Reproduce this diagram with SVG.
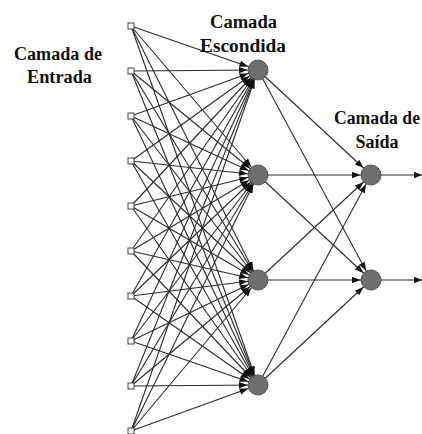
<svg xmlns="http://www.w3.org/2000/svg" width="422" height="434" viewBox="0 0 422 434">
<style>
.lbl{font-family:"Liberation Serif","DejaVu Serif",serif;font-weight:bold;font-size:18px;fill:#111;}
.c{stroke:#2a2a2a;stroke-width:1.1;fill:none;}
.in{fill:#fff;stroke:#444;stroke-width:1;}
.nd{fill:#6e6e6e;stroke:#555;stroke-width:1;}
</style>
<defs>
<marker id="ah" markerUnits="userSpaceOnUse" orient="auto" refX="0" refY="0" markerWidth="40" markerHeight="40" overflow="visible"><path d="M-10.5,0 L-19,-3.2 L-19,3.2 z" fill="#111"/></marker>
<marker id="ah0" markerUnits="userSpaceOnUse" orient="auto" refX="0" refY="0" markerWidth="20" markerHeight="20" overflow="visible"><path d="M0,0 L-8,-3.2 L-8,3.2 z" fill="#111"/></marker>
</defs>
<rect width="422" height="434" fill="#fff"/>
<g id="connectors" class="c" marker-end="url(#ah)">
<line x1="131" y1="26" x2="258" y2="70"/><line x1="131" y1="26" x2="258" y2="175"/><line x1="131" y1="26" x2="258" y2="280"/><line x1="131" y1="26" x2="258" y2="385"/>
<line x1="131" y1="71" x2="258" y2="70"/><line x1="131" y1="71" x2="258" y2="175"/><line x1="131" y1="71" x2="258" y2="280"/><line x1="131" y1="71" x2="258" y2="385"/>
<line x1="131" y1="116" x2="258" y2="70"/><line x1="131" y1="116" x2="258" y2="175"/><line x1="131" y1="116" x2="258" y2="280"/><line x1="131" y1="116" x2="258" y2="385"/>
<line x1="131" y1="161" x2="258" y2="70"/><line x1="131" y1="161" x2="258" y2="175"/><line x1="131" y1="161" x2="258" y2="280"/><line x1="131" y1="161" x2="258" y2="385"/>
<line x1="131" y1="206" x2="258" y2="70"/><line x1="131" y1="206" x2="258" y2="175"/><line x1="131" y1="206" x2="258" y2="280"/><line x1="131" y1="206" x2="258" y2="385"/>
<line x1="131" y1="251" x2="258" y2="70"/><line x1="131" y1="251" x2="258" y2="175"/><line x1="131" y1="251" x2="258" y2="280"/><line x1="131" y1="251" x2="258" y2="385"/>
<line x1="131" y1="296" x2="258" y2="70"/><line x1="131" y1="296" x2="258" y2="175"/><line x1="131" y1="296" x2="258" y2="280"/><line x1="131" y1="296" x2="258" y2="385"/>
<line x1="131" y1="341" x2="258" y2="70"/><line x1="131" y1="341" x2="258" y2="175"/><line x1="131" y1="341" x2="258" y2="280"/><line x1="131" y1="341" x2="258" y2="385"/>
<line x1="131" y1="386" x2="258" y2="70"/><line x1="131" y1="386" x2="258" y2="175"/><line x1="131" y1="386" x2="258" y2="280"/><line x1="131" y1="386" x2="258" y2="385"/>
<line x1="131" y1="431" x2="258" y2="70"/><line x1="131" y1="431" x2="258" y2="175"/><line x1="131" y1="431" x2="258" y2="280"/><line x1="131" y1="431" x2="258" y2="385"/>
<line x1="258" y1="70" x2="371" y2="175"/><line x1="258" y1="70" x2="371" y2="280"/>
<line x1="258" y1="175" x2="371" y2="175"/><line x1="258" y1="175" x2="371" y2="280"/>
<line x1="258" y1="280" x2="371" y2="175"/><line x1="258" y1="280" x2="371" y2="280"/>
<line x1="258" y1="385" x2="371" y2="175"/><line x1="258" y1="385" x2="371" y2="280"/>
<line x1="381" y1="175" x2="422" y2="175" marker-end="url(#ah0)"/>
<line x1="381" y1="280" x2="422" y2="280" marker-end="url(#ah0)"/>
</g>
<g id="in1"><rect class="in" x="128" y="23" width="6" height="6"/></g>
<g id="in2"><rect class="in" x="128" y="68" width="6" height="6"/></g>
<g id="in3"><rect class="in" x="128" y="113" width="6" height="6"/></g>
<g id="in4"><rect class="in" x="128" y="158" width="6" height="6"/></g>
<g id="in5"><rect class="in" x="128" y="203" width="6" height="6"/></g>
<g id="in6"><rect class="in" x="128" y="248" width="6" height="6"/></g>
<g id="in7"><rect class="in" x="128" y="293" width="6" height="6"/></g>
<g id="in8"><rect class="in" x="128" y="338" width="6" height="6"/></g>
<g id="in9"><rect class="in" x="128" y="383" width="6" height="6"/></g>
<g id="in10"><rect class="in" x="128" y="428" width="6" height="6"/></g>
<g id="h1"><circle class="nd" cx="258" cy="70" r="10"/></g>
<g id="h2"><circle class="nd" cx="258" cy="175" r="10"/></g>
<g id="h3"><circle class="nd" cx="258" cy="280" r="10"/></g>
<g id="h4"><circle class="nd" cx="258" cy="385" r="10"/></g>
<g id="o1"><circle class="nd" cx="371" cy="175" r="10"/></g>
<g id="o2"><circle class="nd" cx="371" cy="280" r="10"/></g>
<g id="labels" class="lbl" font-family="'Liberation Serif', 'DejaVu Serif', serif">
<text x="14" y="60" textLength="88" lengthAdjust="spacingAndGlyphs">Camada de</text>
<text x="27" y="83" textLength="65" lengthAdjust="spacingAndGlyphs">Entrada</text>
<text x="210" y="28" textLength="67" lengthAdjust="spacingAndGlyphs">Camada</text>
<text x="200" y="52" textLength="86" lengthAdjust="spacingAndGlyphs">Escondida</text>
<text x="334" y="124" textLength="86" lengthAdjust="spacingAndGlyphs">Camada de</text>
<text x="377" y="148" text-anchor="middle">Saída</text>
</g>
</svg>
